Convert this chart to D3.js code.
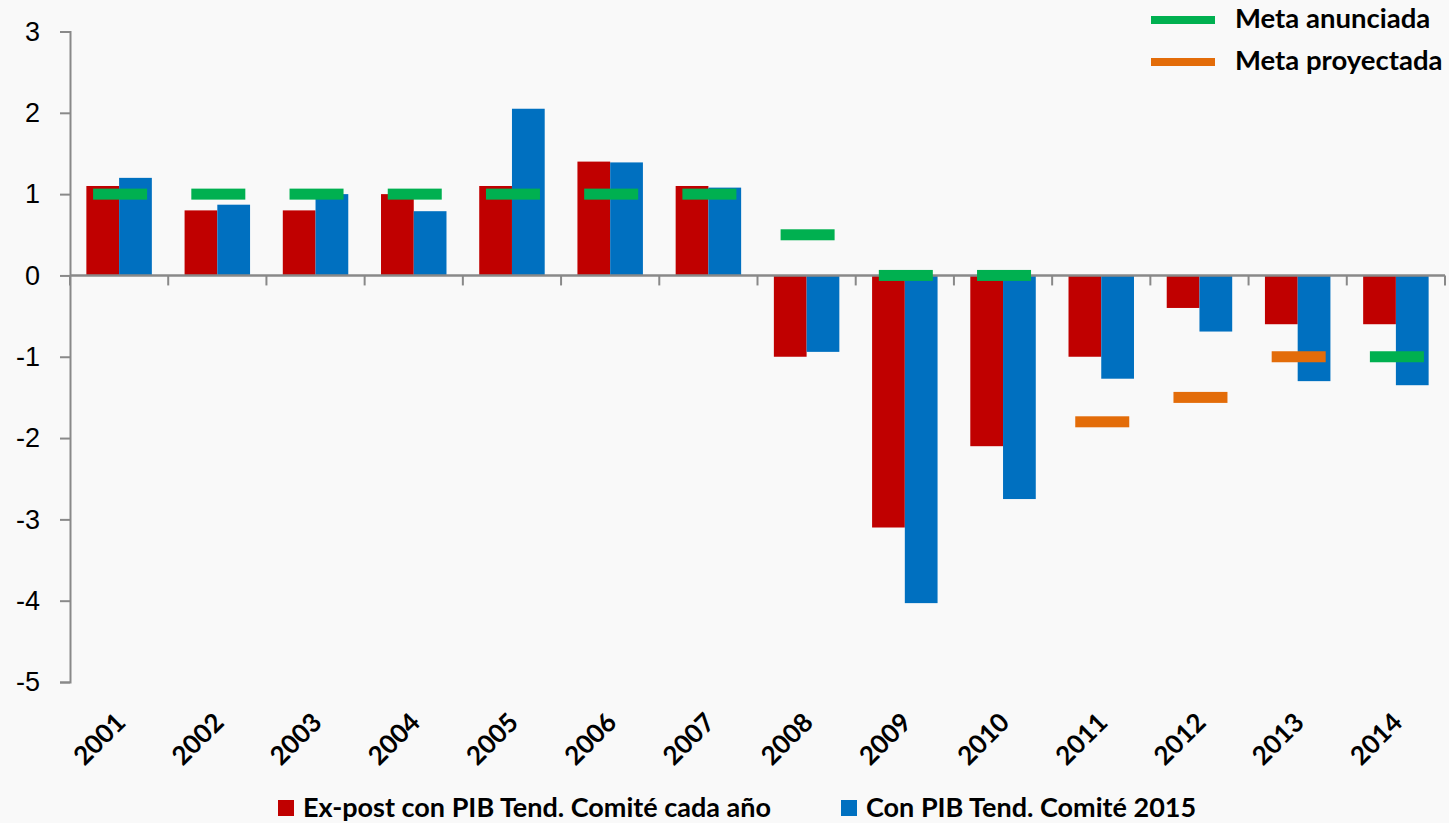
<!DOCTYPE html>
<html>
<head>
<meta charset="utf-8">
<script src="https://cdn.jsdelivr.net/npm/d3@7"></script>
<style>
  body { margin: 0; background: #f9f9f9; }
  svg { display: block; font-family: Lato, "Open Sans", sans-serif; }
</style>
</head>
<body>
<svg id="chart" width="1449" height="823"></svg>
<script>
// values
var years = ["2001","2002","2003","2004","2005","2006","2007","2008","2009","2010","2011","2012","2013","2014"];
var expost = [1.1, 0.8, 0.8, 1.0, 1.1, 1.4, 1.1, -1.0, -3.1, -2.1, -1.0, -0.4, -0.6, -0.6];
var comite2015 = [1.2, 0.87, 1.0, 0.79, 2.05, 1.39, 1.08, -0.94, -4.03, -2.75, -1.27, -0.69, -1.3, -1.35];
var metaAnunciada = [1, 1, 1, 1, 1, 1, 1, 0.5, 0, 0, null, null, null, -1];
var metaProyectada = [null, null, null, null, null, null, null, null, null, null, -1.8, -1.5, -1.0, null];
var yTicks = [3, 2, 1, 0, -1, -2, -3, -4, -5];

var colors = { red: "#c00000", blue: "#0070c0", green: "#00b050", orange: "#e36c09", axis: "#898989" };

var svg = d3.select("#chart");

var x = d3.scaleBand().domain(years).range([70, 1445]).paddingInner(0).paddingOuter(0);
var y = d3.scaleLinear().domain([-5, 3]).range([682, 31.5]);

var bw = x.bandwidth() / 3;

// y axis
var yAxis = svg.append("g").attr("transform", "translate(70,0)")
    .call(d3.axisLeft(y).tickValues(yTicks).tickSize(10).tickPadding(20).tickFormat(d3.format("d")));
yAxis.select(".domain").attr("stroke", colors.axis).attr("stroke-width", 2);
yAxis.selectAll(".tick line").attr("stroke", colors.axis).attr("stroke-width", 2);
yAxis.selectAll(".tick text").attr("font-size", 27).attr("fill", "#000")
    .text(function(d) { return d < 0 ? "-" + Math.abs(d) : d; });

// bars
var g = svg.append("g");
g.selectAll("rect.expost").data(expost).enter().append("rect")
    .attr("x", function(d, i) { return x(years[i]) + bw / 2; })
    .attr("y", function(d) { return y(Math.max(0, d)); })
    .attr("width", bw)
    .attr("height", function(d) { return Math.abs(y(d) - y(0)); })
    .attr("fill", colors.red);

g.selectAll("rect.c2015").data(comite2015).enter().append("rect")
    .attr("x", function(d, i) { return x(years[i]) + bw * 1.5; })
    .attr("y", function(d) { return y(Math.max(0, d)); })
    .attr("width", bw)
    .attr("height", function(d) { return Math.abs(y(d) - y(0)); })
    .attr("fill", colors.blue);

// x axis at zero
var xAxis = svg.append("g").attr("transform", "translate(0," + y(0) + ")");
xAxis.append("line").attr("x1", 70).attr("x2", 1445).attr("stroke", colors.axis).attr("stroke-width", 2.5);
var xTicks = years.map(function(d) { return x(d); }).concat([x.range()[1]]);
xAxis.selectAll("line.tick").data(xTicks).enter().append("line")
    .attr("x1", function(d) { return d; }).attr("x2", function(d) { return d; })
    .attr("y1", 0).attr("y2", 10)
    .attr("stroke", colors.axis).attr("stroke-width", 2);

// target markers
var mw = 54, mh = 11;
function drawMarkers(data, color) {
    var pts = [];
    data.forEach(function(d, i) { if (d !== null) pts.push({ v: d, yr: years[i] }); });
    svg.append("g").selectAll("rect").data(pts).enter().append("rect")
        .attr("x", function(d) { return x(d.yr) + x.bandwidth() / 2 + 1 - mw / 2; })
        .attr("y", function(d) { return y(d.v) - mh / 2; })
        .attr("width", mw).attr("height", mh)
        .attr("fill", color);
}
drawMarkers(metaAnunciada, colors.green);
drawMarkers(metaProyectada, colors.orange);

// year labels
svg.append("g").selectAll("text").data(years).enter().append("text")
    .attr("transform", function(d) {
        return "translate(" + (x(d) + x.bandwidth() / 2 + 8) + ",724) rotate(-45)";
    })
    .attr("text-anchor", "end")
    .attr("font-size", 26).attr("font-weight", "bold")
    .text(function(d) { return d; });

// top-right legend
var leg = [{ label: "Meta anunciada", color: colors.green, y: 20 }, { label: "Meta proyectada", color: colors.orange, y: 62 }];
var lg = svg.append("g");
lg.selectAll("rect").data(leg).enter().append("rect")
    .attr("x", 1151).attr("y", function(d) { return d.y - 4; })
    .attr("width", 64).attr("height", 8).attr("fill", function(d) { return d.color; });
lg.selectAll("text").data(leg).enter().append("text")
    .attr("x", 1235).attr("y", function(d) { return d.y + 8; })
    .attr("font-size", 27.5).attr("font-weight", "bold")
    .text(function(d) { return d.label; });

// bottom legend
var leg2 = [{ label: "Ex-post con PIB Tend. Comité cada año", color: colors.red, x: 278 },
            { label: "Con PIB Tend. Comité 2015", color: colors.blue, x: 841 }];
var bl = svg.append("g");
bl.selectAll("rect").data(leg2).enter().append("rect")
    .attr("x", function(d) { return d.x; }).attr("y", 800)
    .attr("width", 16).attr("height", 16).attr("fill", function(d) { return d.color; });
bl.selectAll("text").data(leg2).enter().append("text")
    .attr("x", function(d) { return d.x + 25; }).attr("y", 817)
    .attr("font-size", 27).attr("font-weight", "bold")
    .text(function(d) { return d.label; });
</script>
</body>
</html>
